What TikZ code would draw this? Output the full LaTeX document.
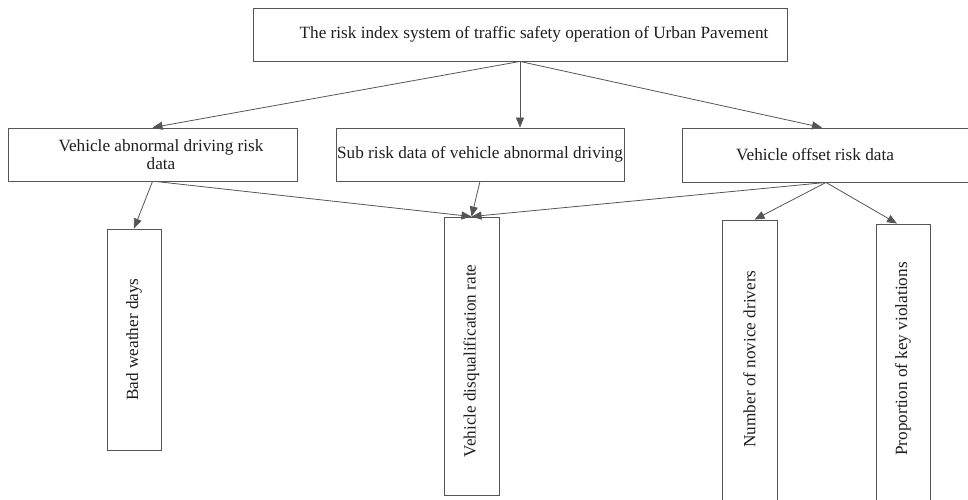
\documentclass[tikz,border=0pt]{standalone}
\usepackage{fontspec}
\setmainfont{Liberation Serif}
\usetikzlibrary{arrows.meta}
\definecolor{ln}{RGB}{85,85,85}
\definecolor{tx}{RGB}{30,30,30}
\begin{document}
\begin{tikzpicture}[x=1pt,y=-1pt,
  box/.style={draw=ln, line width=0.9pt, inner sep=0pt, text=tx,
    font=\fontsize{17.2}{18.5}\selectfont},
  con/.style={draw=ln, line width=0.8pt, -{Triangle[length=10pt,width=8pt]}}]
\useasboundingbox (0,0) rectangle (968,499);
\node[box, minimum width=534, minimum height=53] (top) at (520,34.5)
  {\hspace*{28pt}The risk index system of traffic safety operation of Urban Pavement};
\node[box, minimum width=289, minimum height=53, align=center] (left) at (152.5,154.5)
  {\hspace*{17pt}Vehicle abnormal driving risk\\\hspace*{17pt}data};
\node[box, minimum width=288, minimum height=53] (mid) at (480,154.5)
  {Sub risk data of vehicle abnormal driving};
\node[box, minimum width=288, minimum height=54] (right) at (826,155)
  {\hspace*{-22pt}Vehicle offset risk data};
\node[box, minimum width=54, minimum height=221] (bw) at (134,339.5)
  {\rotatebox{90}{Bad weather days}};
\node[box, minimum width=55, minimum height=278] (dq) at (471.5,356)
  {\rotatebox{90}{Vehicle disqualification rate\hspace*{10pt}}};
\node[box, minimum width=55, minimum height=282] (nd) at (749.5,361)
  {\rotatebox{90}{\hspace*{4pt}Number of novice drivers}};
\node[box, minimum width=54, minimum height=278] (pk) at (903,363)
  {\rotatebox{90}{\hspace*{8pt}Proportion of key violations}};
\draw[con] (top.south) -- (left.north);
\draw[con] (top.south) -- ([xshift=40pt]mid.north);
\draw[con] (top.south) -- ([xshift=-4pt]right.north);
\draw[con] (left.south) -- (bw.north);
\draw[con] ([xshift=3pt]left.south) -- (dq.north);
\draw[con] (mid.south) -- (dq.north);
\draw[con] (right.south) -- (dq.north);
\draw[con] (right.south) -- ([xshift=5pt]nd.north);
\draw[con] (right.south) -- ([xshift=-6pt]pk.north);
\end{tikzpicture}
\end{document}
